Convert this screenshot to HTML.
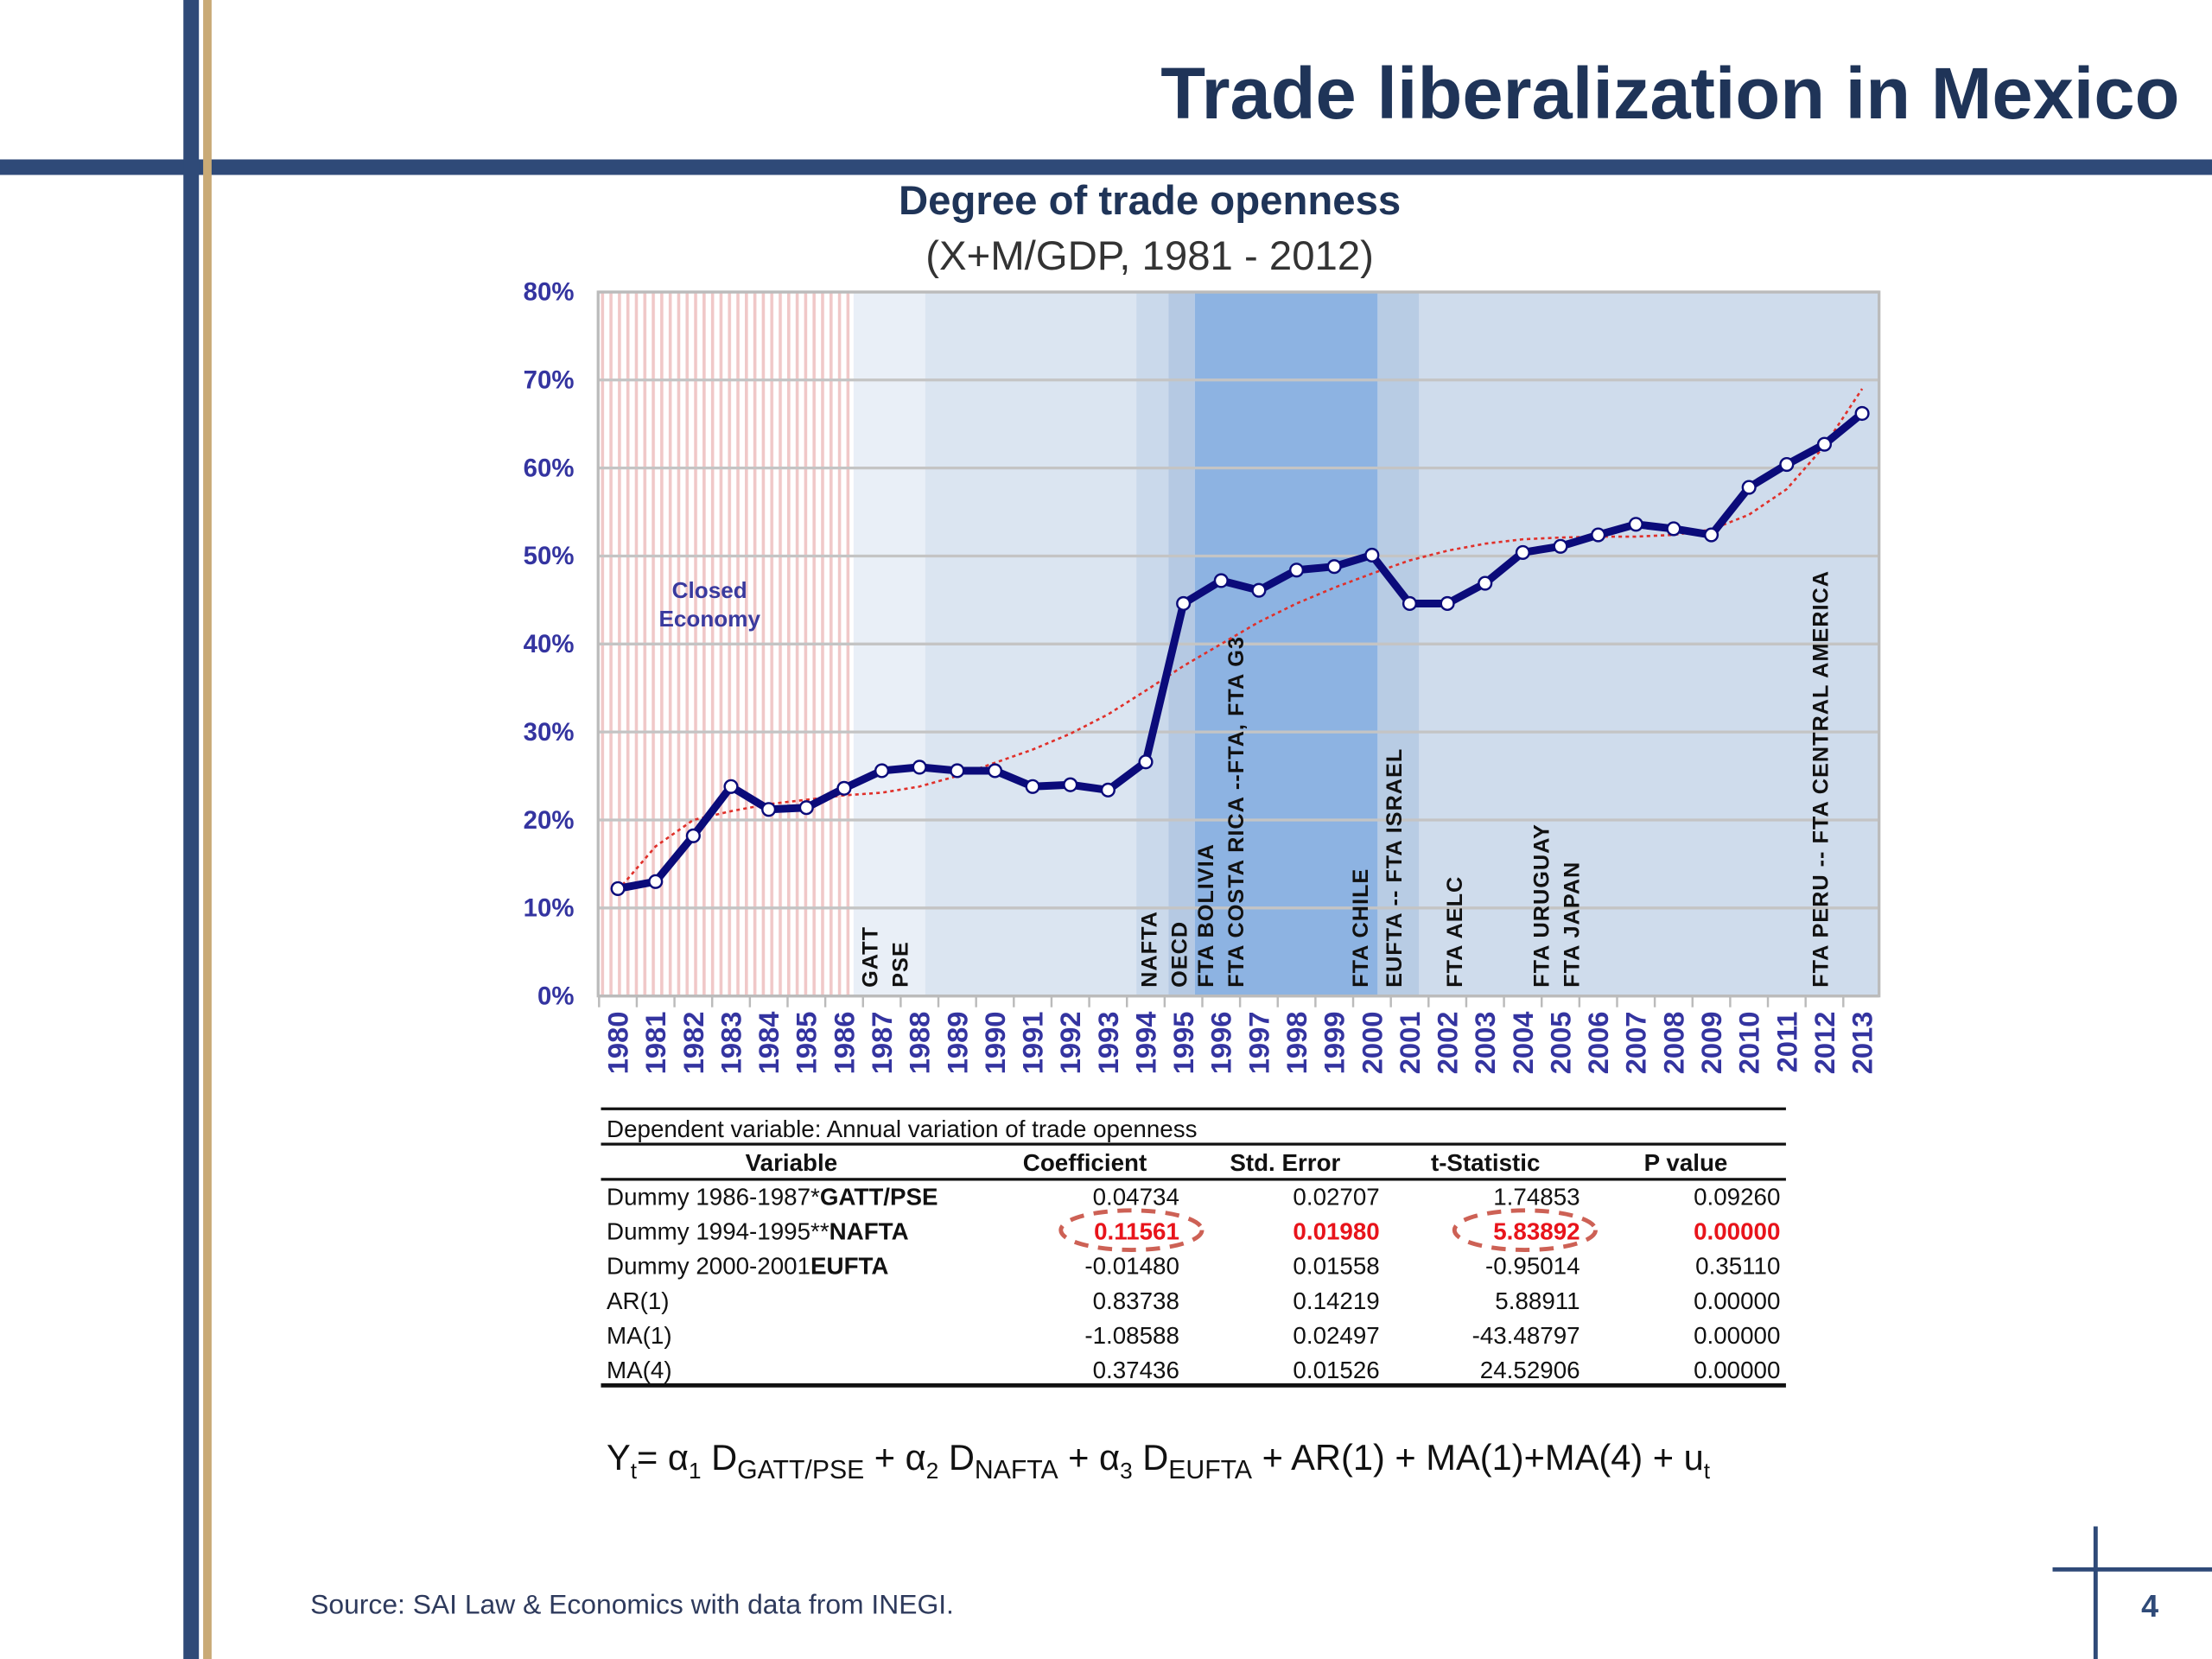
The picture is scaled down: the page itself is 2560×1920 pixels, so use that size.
<!DOCTYPE html>
<html><head><meta charset="utf-8"><style>
html,body{margin:0;padding:0;background:#fff}
svg{display:block}
text{font-family:"Liberation Sans",sans-serif}
</style></head><body>
<svg id="s" width="2560" height="1920" viewBox="0 0 1568 1176" xmlns="http://www.w3.org/2000/svg">
<defs>
<pattern id="hatch" width="6" height="10" patternUnits="userSpaceOnUse">
<rect width="6" height="10" fill="#fff"/><rect x="0" width="2.2" height="10" fill="#f0c8c8"/>
</pattern>
</defs>
<rect width="1568" height="1176" fill="#fff"/>
<g>
<rect x="0" y="113" width="1568" height="11" fill="#2f4a78"/>
<rect x="130" y="0" width="11" height="1176" fill="#2f4a78"/>
<rect x="144" y="0" width="6" height="1176" fill="#c9aa76"/>
<rect x="1484" y="1082" width="3" height="94" fill="#2f4a78"/>
<rect x="1455" y="1111" width="113" height="3" fill="#2f4a78"/>
</g>
<text x="1545" y="84" text-anchor="end" font-size="52" font-weight="bold" fill="#1f3458">Trade liberalization in Mexico</text>
<text x="815" y="152" text-anchor="middle" font-size="29" font-weight="bold" fill="#1f3458">Degree of trade openness</text>
<text x="815" y="191" text-anchor="middle" font-size="29" fill="#333">(X+M/GDP, 1981 - 2012)</text>
<g id="bands"></g>
<g id="grid"></g>
<rect x="424" y="207" width="908" height="499" fill="none" stroke="#bbb" stroke-width="2"/>
<g id="yaxis"></g>
<g id="xaxis"></g>
<g id="annots"></g>
<text x="503" y="424" text-anchor="middle" font-size="16" font-weight="bold" fill="#3a3a9e">Closed</text>
<text x="503" y="444" text-anchor="middle" font-size="16" font-weight="bold" fill="#3a3a9e">Economy</text>
<g id="series"></g>

<g font-size="17" fill="#111">
<line x1="426" y1="786" x2="1266" y2="786" stroke="#111" stroke-width="2"/>
<line x1="426" y1="811" x2="1266" y2="811" stroke="#111" stroke-width="2"/>
<line x1="426" y1="836" x2="1266" y2="836" stroke="#111" stroke-width="2"/>
<line x1="426" y1="982" x2="1266" y2="982" stroke="#111" stroke-width="3"/>
<text x="430" y="806">Dependent variable: Annual variation of trade openness</text>
<g font-weight="bold" text-anchor="middle">
<text x="561" y="830">Variable</text><text x="769" y="830">Coefficient</text><text x="911" y="830">Std. Error</text><text x="1053" y="830">t-Statistic</text><text x="1195" y="830">P value</text>
</g>
<g id="rows"></g>
<ellipse cx="802" cy="872" rx="50" ry="14" fill="none" stroke="#c0392b" stroke-width="3" stroke-dasharray="10,7" opacity="0.8"/>
<ellipse cx="1081" cy="872" rx="50" ry="14" fill="none" stroke="#c0392b" stroke-width="3" stroke-dasharray="10,7" opacity="0.8"/>
</g>
<text x="430" y="1042" font-size="25.5" fill="#111">Y<tspan font-size="16" dy="6">t</tspan><tspan dy="-6">= α</tspan><tspan font-size="16" dy="6">1</tspan><tspan dy="-6"> D</tspan><tspan font-size="18.5" dy="6">GATT/PSE</tspan><tspan dy="-6"> + α</tspan><tspan font-size="16" dy="6">2</tspan><tspan dy="-6"> D</tspan><tspan font-size="18.5" dy="6">NAFTA</tspan><tspan dy="-6"> + α</tspan><tspan font-size="16" dy="6">3</tspan><tspan dy="-6"> D</tspan><tspan font-size="18.5" dy="6">EUFTA</tspan><tspan dy="-6"> + AR(1) + MA(1)+MA(4) + u</tspan><tspan font-size="16" dy="6">t</tspan></text>
<text x="220" y="1144" font-size="19.5" fill="#2e3a5c">Source: SAI Law &amp; Economics with data from INEGI.</text>
<text x="1524" y="1146" text-anchor="middle" font-size="22" font-weight="bold" fill="#2f4a78">4</text>
</svg>
<script>
const years=[1980,1981,1982,1983,1984,1985,1986,1987,1988,1989,1990,1991,1992,1993,1994,1995,1996,1997,1998,1999,2000,2001,2002,2003,2004,2005,2006,2007,2008,2009,2010,2011,2012,2013];
const openness=[12.2,13.0,18.2,23.8,21.2,21.4,23.6,25.6,26.0,25.6,25.6,23.8,24.0,23.4,26.6,44.6,47.2,46.1,48.4,48.8,50.1,44.6,44.6,46.9,50.4,51.1,52.4,53.6,53.1,52.4,57.8,60.4,62.7,66.2];
const trend=[12.0,17.0,20.0,21.0,21.8,22.3,22.8,23.1,23.8,25.0,26.5,28.0,29.8,32.0,34.7,37.5,40.0,42.5,44.6,46.4,48.0,49.5,50.6,51.4,51.9,52.1,52.2,52.2,52.4,53.0,54.7,57.6,62.5,69.0];
const yTicks=[0,10,20,30,40,50,60,70,80];
const annotations=[["GATT",1986.7],["PSE",1987.5],["NAFTA",1994.1],["OECD",1994.9],["FTA BOLIVIA",1995.6],["FTA COSTA RICA --FTA, FTA G3",1996.4],["FTA CHILE",1999.7],["EUFTA  --  FTA ISRAEL",2000.6],["FTA AELC",2002.2],["FTA URUGUAY",2004.5],["FTA JAPAN",2005.3],["FTA PERU -- FTA CENTRAL AMERICA",2011.9]];
const bands=[[1979.5,1986.25,"hatch"],[1986.25,1988.15,"#e9eff7"],[1988.15,1993.75,"#dbe5f1"],[1993.75,1994.6,"#cad9eb"],[1994.6,1995.3,"#b5c9e3"],[1995.3,2000.15,"#8db3e2"],[2000.15,2001.25,"#b8cce4"],[2001.25,2013.5,"#cfdcec"]];
const rowsData=[["Dummy 1986-1987*","GATT/PSE","0.04734","0.02707","1.74853","0.09260",false],["Dummy 1994-1995**","NAFTA","0.11561","0.01980","5.83892","0.00000",true],["Dummy 2000-2001","EUFTA","-0.01480","0.01558","-0.95014","0.35110",false],["AR(1)","","0.83738","0.14219","5.88911","0.00000",false],["MA(1)","","-1.08588","0.02497","-43.48797","0.00000",false],["MA(4)","","0.37436","0.01526","24.52906","0.00000",false]];
const NS="http://www.w3.org/2000/svg";
const X=y=>438+(y-1980)*(1320-438)/33;
const Y=v=>706-v*(706-207)/80;
function mk(tag,attrs,parent){const e=document.createElementNS(NS,tag);for(const k in attrs)e.setAttribute(k,attrs[k]);parent.appendChild(e);return e;}
const gB=document.getElementById('bands');
bands.forEach(b=>{const x1=Math.max(424,X(b[0])),x2=Math.min(1332,X(b[1]));
const r=mk('rect',{x:x1,y:207,width:x2-x1,height:499,fill:b[2]==="hatch"?"url(#hatch)":b[2]},gB);

});
const gG=document.getElementById('grid'),gY=document.getElementById('yaxis');
yTicks.forEach(t=>{const l=mk('line',{x1:424,x2:1332,y1:Y(t),y2:Y(t),stroke:"#c4c4c4","stroke-width":2},gG);


const tx=mk('text',{x:407,y:Y(t)+6,"text-anchor":"end","font-size":18,"font-weight":"bold",fill:"#3434a0"},gY);tx.textContent=t+"%";

});
const gX=document.getElementById('xaxis');
mk('line',{x1:424,x2:1332,y1:706,y2:706,stroke:"#bbb","stroke-width":2},gX);
years.forEach(y=>{const x=X(y)-13.35;mk('line',{x1:x,x2:x,y1:706,y2:714,stroke:"#bbb","stroke-width":1.5},gX);
const t=mk('text',{x:0,y:0,"text-anchor":"end","font-size":20,"font-weight":"bold",fill:"#3434a0",transform:`translate(${X(y)+7},717) rotate(-90)`},gX);t.textContent=y;

});
const gA=document.getElementById('annots');
annotations.forEach(a=>{const t=mk('text',{x:0,y:0,"font-size":15.5,"font-weight":"bold","letter-spacing":"0.6",fill:"#111",transform:`translate(${X(a[1])+5},700) rotate(-90)`},gA);t.textContent=a[0];

});
const gS=document.getElementById('series');
const tl=mk('polyline',{points:years.map((y,i)=>X(y)+","+Y(trend[i])).join(" "),fill:"none",stroke:"#e0302a","stroke-width":1.6,"stroke-dasharray":"2.5,2.5"},gS);


const ln=mk('polyline',{points:years.map((y,i)=>X(y)+","+Y(openness[i])).join(" "),fill:"none",stroke:"#0b0b7a","stroke-width":5.5,"stroke-linejoin":"round"},gS);


years.forEach((y,i)=>{const c=mk('circle',{cx:X(y),cy:Y(openness[i]),r:4.5,fill:"#fff",stroke:"#0b0b7a","stroke-width":1.5},gS);

});
const gR=document.getElementById('rows');
rowsData.forEach((r,i)=>{const y=854+i*24.6;const col=r[6]?"#e8141b":"#111";
const t=mk('text',{x:430,y:y},gR);t.textContent=r[0];
if(r[1]){const b=mk('tspan',{"font-weight":"bold"},t);b.textContent=r[1];}
[[836,r[2]],[978,r[3]],[1120,r[4]],[1262,r[5]]].forEach(c=>{const e=mk('text',{x:c[0],y:y,"text-anchor":"end",fill:col,"font-weight":r[6]?"bold":"normal"},gR);e.textContent=c[1];

});

});
</script>
</body></html>
